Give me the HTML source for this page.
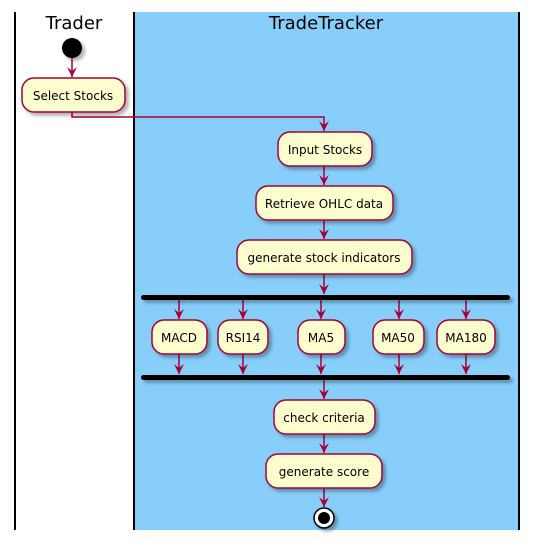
<!DOCTYPE html>
<html><head><style>body{margin:0;background:#fff}svg{display:block}</style></head>
<body>
<svg width="538" height="546" viewBox="0 0 538 546" xmlns="http://www.w3.org/2000/svg" font-family="'DejaVu Sans','Liberation Sans',sans-serif">
<defs>
<filter id="sh" x="-20%" y="-20%" width="150%" height="160%"><feDropShadow dx="3" dy="3" stdDeviation="1.5" flood-color="#000" flood-opacity="0.3"/></filter>
<marker id="a" markerWidth="10" markerHeight="10" refX="10" refY="5" orient="auto" markerUnits="userSpaceOnUse" viewBox="0 0 10 10"><path d="M0,0 L10,5 L0,10 L4,5 Z" fill="#A80036"/></marker>
</defs>
<rect x="134" y="12" width="385" height="518" fill="#87CEFA"/>
<line x1="15" y1="12" x2="15" y2="530" stroke="#000" stroke-width="2"/>
<line x1="134" y1="12" x2="134" y2="530" stroke="#000" stroke-width="2"/>
<line x1="519" y1="12" x2="519" y2="530" stroke="#000" stroke-width="2"/>
<text x="74" y="29" font-size="18" text-anchor="middle">Trader</text>
<text x="326" y="29" font-size="18" text-anchor="middle">TradeTracker</text>
<circle cx="72" cy="48" r="10" fill="#000" filter="url(#sh)"/>
<g stroke="#A80036" stroke-width="1.5" fill="none">
<line x1="72" y1="58" x2="72" y2="77" marker-end="url(#a)"/>
<polyline points="72,112 72,117 324,117 324,131" marker-end="url(#a)"/>
<line x1="324" y1="166" x2="324" y2="185" marker-end="url(#a)"/>
<line x1="324" y1="220" x2="324" y2="239" marker-end="url(#a)"/>
<line x1="324" y1="274" x2="324" y2="294" marker-end="url(#a)"/>
<line x1="179" y1="300" x2="179" y2="319" marker-end="url(#a)"/>
<line x1="243" y1="300" x2="243" y2="319" marker-end="url(#a)"/>
<line x1="321" y1="300" x2="321" y2="319" marker-end="url(#a)"/>
<line x1="399" y1="300" x2="399" y2="319" marker-end="url(#a)"/>
<line x1="466" y1="300" x2="466" y2="319" marker-end="url(#a)"/>
<line x1="179" y1="354" x2="179" y2="374" marker-end="url(#a)"/>
<line x1="243" y1="354" x2="243" y2="374" marker-end="url(#a)"/>
<line x1="321" y1="354" x2="321" y2="374" marker-end="url(#a)"/>
<line x1="399" y1="354" x2="399" y2="374" marker-end="url(#a)"/>
<line x1="466" y1="354" x2="466" y2="374" marker-end="url(#a)"/>
<line x1="324" y1="380" x2="324" y2="399" marker-end="url(#a)"/>
<line x1="324" y1="434" x2="324" y2="453" marker-end="url(#a)"/>
<line x1="324" y1="488" x2="324" y2="507" marker-end="url(#a)"/>
</g>
<g fill="#FEFECE" stroke="#A80036" stroke-width="1.5" filter="url(#sh)">
<rect x="22" y="78" width="103" height="34" rx="12"/>
<rect x="278" y="132" width="94" height="34" rx="12"/>
<rect x="256" y="186" width="137" height="34" rx="12"/>
<rect x="237" y="240" width="175" height="34" rx="12"/>
<rect x="152" y="320" width="55" height="34" rx="12"/>
<rect x="218" y="320" width="50" height="34" rx="12"/>
<rect x="298" y="320" width="47" height="34" rx="12"/>
<rect x="373" y="320" width="51" height="34" rx="12"/>
<rect x="437" y="320" width="58" height="34" rx="12"/>
<rect x="274" y="400" width="101" height="34" rx="12"/>
<rect x="266" y="454" width="116" height="34" rx="12"/>
</g>
<g fill="#000" filter="url(#sh)">
<rect x="141" y="295" width="369" height="5" rx="2.5"/>
<rect x="141" y="375" width="369" height="5" rx="2.5"/>
</g>
<g font-size="12" text-anchor="middle" fill="#000">
<text x="73" y="100">Select Stocks</text>
<text x="325" y="154">Input Stocks</text>
<text x="324" y="208">Retrieve OHLC data</text>
<text x="324" y="262">generate stock indicators</text>
<text x="179" y="342">MACD</text>
<text x="243" y="342">RSI14</text>
<text x="321" y="342">MA5</text>
<text x="398" y="342">MA50</text>
<text x="466" y="342">MA180</text>
<text x="324" y="422">check criteria</text>
<text x="324" y="476">generate score</text>
</g>
<circle cx="324" cy="518" r="10" fill="#fff" stroke="#000" stroke-width="1.5" filter="url(#sh)"/>
<circle cx="324" cy="518" r="6" fill="#000"/>
</svg>
</body></html>
